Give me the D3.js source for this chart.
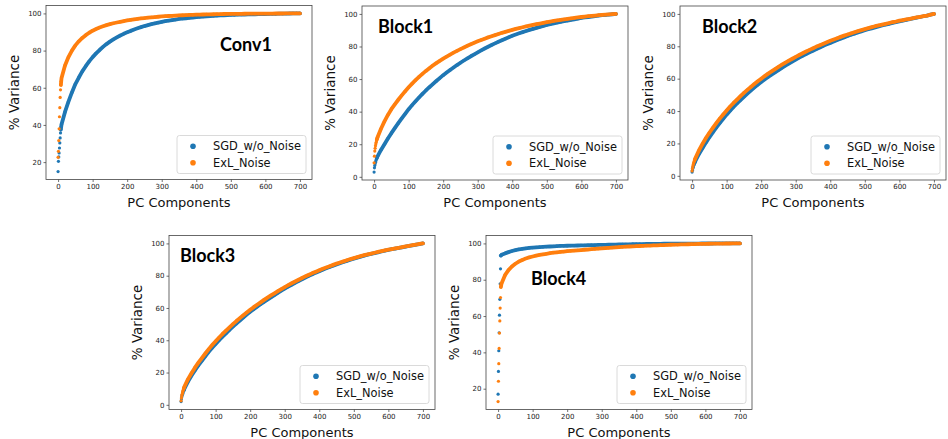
<!DOCTYPE html>
<html>
<head>
<meta charset="utf-8">
<script src="https://cdn.jsdelivr.net/npm/d3@7"></script>
<style>
  html, body { margin: 0; padding: 0; background: #fff; }
  svg { display: block; }
</style>
</head>
<body>
<svg id="chart" width="948" height="439"></svg>
<script>
// ---------------- DATA ----------------
const pcs = [0,1,2,3,4,5,6,7,8,9,10,
  20,30,40,50,60,70,80,90,100,
  110,120,130,140,150,160,170,180,190,200,
  210,220,230,240,250,260,270,280,290,300,
  310,320,330,340,350,360,370,380,390,400,
  410,420,430,440,450,460,470,480,490,500,
  510,520,530,540,550,560,570,580,590,600,
  610,620,630,640,650,660,670,680,690,700];

const seriesNames = ["SGD_w/o_Noise", "ExL_Noise"];
const panelTitles = ["Conv1", "Block1", "Block2", "Block3", "Block4"];
const xTicks = [0,100,200,300,400,500,600,700];
const yTicksConv1 = [20,40,60,80,100];
const yTicksBlock = [0,20,40,60,80,100];
const yTicksBlock4 = [20,40,60,80,100];

const conv1Sgd = [14.9,20.4,22.8,24.9,27.6,30.3,33.0,35.7,37.5,39.0,40.3,
  47.0,52.5,57.5,62.0,65.5,68.8,71.6,74.2,76.5,
  78.5,80.3,82.0,83.5,84.8,86.0,87.1,88.1,89.0,89.8,
  90.6,91.3,92.0,92.6,93.2,93.7,94.2,94.6,95.0,95.4,
  95.8,96.1,96.4,96.7,97.0,97.2,97.4,97.6,97.8,98.0,
  98.15,98.3,98.45,98.6,98.7,98.8,98.9,99.0,99.1,99.2,
  99.25,99.3,99.35,99.4,99.45,99.5,99.55,99.6,99.64,99.68,
  99.72,99.76,99.8,99.84,99.88,99.91,99.94,99.97,99.99,100];
const conv1Exl = [22.6,25.8,31.6,37.9,44.4,49.3,54.8,58.9,61.5,63.5,65.3,
  72.0,76.5,80.0,82.8,85.0,86.8,88.3,89.6,90.7,
  91.6,92.4,93.1,93.7,94.2,94.7,95.1,95.5,95.9,96.2,
  96.5,96.8,97.05,97.3,97.5,97.7,97.9,98.05,98.2,98.35,
  98.5,98.6,98.7,98.8,98.9,99.0,99.08,99.16,99.24,99.3,
  99.36,99.42,99.47,99.52,99.56,99.6,99.64,99.67,99.7,99.73,
  99.76,99.78,99.8,99.82,99.84,99.86,99.88,99.89,99.9,99.91,
  99.92,99.93,99.94,99.95,99.96,99.97,99.98,99.99,99.995,100];

const block1Sgd = [2.9,5.5,6.9,8.0,8.9,9.7,10.4,11.0,11.6,12.1,12.6,
  16.5,20.0,23.5,26.8,29.9,32.9,35.8,38.7,41.5,
  44.0,46.4,48.7,50.9,53.0,55.0,56.9,58.8,60.6,62.4,
  64.0,65.6,67.1,68.6,70.0,71.4,72.7,74.0,75.2,76.4,
  77.6,78.75,79.85,80.9,81.9,82.9,83.85,84.8,85.7,86.55,
  87.35,88.1,88.8,89.5,90.2,90.8,91.4,92.0,92.6,93.2,
  93.7,94.2,94.7,95.1,95.5,95.9,96.3,96.7,97.1,97.5,
  97.8,98.1,98.4,98.7,98.95,99.2,99.4,99.6,99.8,100];
const block1Exl = [8.6,12.7,15.8,17.5,19.0,20.2,21.2,22.1,22.9,23.6,24.3,
  29.5,34.0,38.0,41.5,44.5,47.3,50.0,52.5,55.0,
  57.2,59.3,61.3,63.2,65.0,66.7,68.3,69.8,71.2,72.5,
  73.8,75.0,76.2,77.3,78.4,79.4,80.4,81.4,82.3,83.2,
  84.0,84.8,85.6,86.3,87.0,87.7,88.4,89.0,89.6,90.2,
  90.8,91.3,91.8,92.3,92.8,93.3,93.7,94.1,94.5,94.9,
  95.3,95.7,96.0,96.3,96.6,96.9,97.2,97.5,97.8,98.1,
  98.35,98.6,98.8,99.0,99.2,99.4,99.55,99.7,99.85,100];

const block2Sgd = [2.3,3.5,4.5,5.3,6.0,6.6,7.2,7.8,8.3,8.8,9.3,
  13.5,17.0,20.5,23.8,26.8,29.7,32.5,35.2,37.8,
  40.2,42.5,44.7,46.8,48.8,50.8,52.7,54.5,56.2,57.9,
  59.5,61.0,62.5,63.9,65.3,66.7,68.0,69.3,70.6,71.8,
  73.0,74.1,75.2,76.3,77.3,78.3,79.3,80.3,81.2,82.1,
  83.0,83.9,84.7,85.5,86.3,87.1,87.8,88.5,89.2,89.9,
  90.5,91.1,91.7,92.3,92.9,93.4,93.9,94.4,94.9,95.4,
  95.85,96.3,96.75,97.2,97.65,98.1,98.55,99.0,99.5,100];
const block2Exl = [3.0,4.5,5.7,6.7,7.5,8.2,8.9,9.5,10.1,10.6,11.1,
  15.8,19.7,23.3,26.6,29.6,32.5,35.3,37.9,40.4,
  42.8,45.0,47.1,49.2,51.2,53.1,54.9,56.7,58.4,60.0,
  61.6,63.1,64.5,65.9,67.3,68.6,69.9,71.1,72.3,73.5,
  74.6,75.7,76.8,77.8,78.8,79.8,80.7,81.6,82.5,83.4,
  84.2,85.0,85.8,86.6,87.3,88.0,88.7,89.4,90.0,90.6,
  91.2,91.8,92.4,92.9,93.4,93.9,94.4,94.9,95.3,95.8,
  96.2,96.6,97.0,97.4,97.8,98.2,98.6,99.0,99.5,100];

const block3Sgd = [2.0,3.6,4.8,5.7,6.5,7.2,7.9,8.5,9.1,9.6,10.1,
  14.4,18.0,21.3,24.4,27.3,30.1,32.8,35.3,37.7,
  40.0,42.2,44.3,46.4,48.4,50.3,52.2,54.1,55.9,57.6,
  59.2,60.8,62.3,63.8,65.2,66.6,68.0,69.4,70.7,72.0,
  73.2,74.4,75.6,76.7,77.8,78.9,79.9,80.9,81.9,82.8,
  83.7,84.6,85.4,86.2,87.0,87.8,88.5,89.2,89.9,90.6,
  91.2,91.8,92.4,93.0,93.5,94.0,94.5,95.0,95.5,96.0,
  96.4,96.8,97.2,97.6,98.0,98.4,98.8,99.2,99.6,100];
const block3Exl = [2.5,4.3,5.6,6.6,7.5,8.3,9.0,9.7,10.3,10.9,11.4,
  15.9,19.6,23.0,26.1,29.0,31.8,34.5,37.0,39.4,
  41.7,43.9,46.0,48.0,50.0,51.9,53.7,55.5,57.2,58.9,
  60.5,62.0,63.5,65.0,66.4,67.8,69.1,70.4,71.7,72.9,
  74.1,75.3,76.4,77.5,78.6,79.6,80.6,81.6,82.5,83.4,
  84.3,85.1,85.9,86.7,87.5,88.2,88.9,89.6,90.3,90.9,
  91.5,92.1,92.7,93.2,93.7,94.2,94.7,95.2,95.7,96.1,
  96.5,96.9,97.3,97.7,98.1,98.5,98.9,99.3,99.65,100];

const block4Sgd = [17.0,29.5,40.9,50.8,60.5,69.2,77.8,86.0,93.3,93.5,93.7,
  94.5,95.2,95.8,96.3,96.7,97.0,97.3,97.5,97.7,
  97.85,98.0,98.1,98.2,98.3,98.4,98.5,98.6,98.65,98.7,
  98.75,98.8,98.85,98.9,98.95,99.0,99.05,99.1,99.15,99.2,
  99.24,99.28,99.32,99.36,99.4,99.44,99.48,99.52,99.56,99.6,
  99.63,99.66,99.69,99.72,99.75,99.77,99.79,99.81,99.83,99.85,
  99.86,99.87,99.88,99.89,99.9,99.91,99.92,99.93,99.94,99.95,
  99.955,99.96,99.965,99.97,99.975,99.98,99.985,99.99,99.995,100];
const block4Exl = [12.9,24.1,33.8,42.2,50.6,57.3,64.4,70.2,76.0,77.0,77.9,
  82.5,85.3,87.3,88.8,90.0,90.9,91.7,92.3,92.8,
  93.3,93.7,94.0,94.3,94.6,94.9,95.1,95.3,95.5,95.7,
  95.9,96.05,96.2,96.35,96.5,96.65,96.8,96.95,97.1,97.25,
  97.4,97.55,97.7,97.85,98.0,98.1,98.2,98.3,98.4,98.5,
  98.58,98.66,98.74,98.82,98.9,98.97,99.04,99.11,99.18,99.25,
  99.32,99.38,99.44,99.5,99.55,99.6,99.65,99.7,99.74,99.78,
  99.82,99.85,99.88,99.9,99.92,99.94,99.96,99.98,99.99,100];

// ---------------- LAYOUT / STYLE ----------------
const colors = ["#1f77b4", "#ff7f0e"];
const PW = 266, PH = 174;
const panels = [
  { title: panelTitles[0], sgd: conv1Sgd,  exl: conv1Exl,  yTicks: yTicksConv1,  left: 46,  top: 5.5, tx: 174, ty: 38 },
  { title: panelTitles[1], sgd: block1Sgd, exl: block1Exl, yTicks: yTicksBlock,  left: 362, top: 6,   tx: 16,  ty: 20 },
  { title: panelTitles[2], sgd: block2Sgd, exl: block2Exl, yTicks: yTicksBlock,  left: 680, top: 6,   tx: 22,  ty: 20 },
  { title: panelTitles[3], sgd: block3Sgd, exl: block3Exl, yTicks: yTicksBlock,  left: 169, top: 235.5, tx: 11, ty: 19.5 },
  { title: panelTitles[4], sgd: block4Sgd, exl: block4Exl, yTicks: yTicksBlock4, left: 486, top: 235.5, tx: 45, ty: 42.5 }
];

const svg = d3.select("#chart");
svg.append("rect").attr("width", 948).attr("height", 439).attr("fill", "#fff");

const axisFont = "DejaVu Sans, sans-serif";

function margined(ext) {
  const pad = (ext[1] - ext[0]) * 0.05;
  return [ext[0] - pad, ext[1] + pad];
}

panels.forEach(p => {
  const g = svg.append("g").attr("transform", `translate(${p.left},${p.top})`);
  const x = d3.scaleLinear().domain(margined(d3.extent(pcs))).range([0, PW]);
  const allY = p.sgd.concat(p.exl);
  const y = d3.scaleLinear().domain(margined(d3.extent(allY))).range([PH, 0]);

  // series (blue first, orange on top)
  [p.sgd, p.exl].forEach((vals, si) => {
    const pts = pcs.map((c, i) => ({ c, v: vals[i] }));
    const dense = pts.filter(d => d.c >= 8);
    g.append("path")
      .datum(dense)
      .attr("fill", "none")
      .attr("stroke", colors[si])
      .attr("stroke-width", 3.8)
      .attr("stroke-linecap", "round")
      .attr("stroke-linejoin", "round")
      .attr("d", d3.line().x(d => x(d.c)).y(d => y(d.v)));
    g.selectAll(null).data(pts).enter().append("circle")
      .attr("cx", d => x(d.c))
      .attr("cy", d => y(d.v))
      .attr("r", 1.6)
      .attr("fill", colors[si]);
  });

  // axes
  const xAxis = d3.axisBottom(x).tickValues(xTicks).tickSize(2.5).tickPadding(2);
  const yAxis = d3.axisLeft(y).tickValues(p.yTicks).tickSize(2.5).tickPadding(2);
  const gx = g.append("g").attr("transform", `translate(0,${PH})`).call(xAxis);
  const gy = g.append("g").call(yAxis);
  [gx, gy].forEach(a => {
    a.select(".domain").remove();
    a.selectAll(".tick line").attr("stroke", "#333").attr("stroke-width", 0.7);
    a.selectAll(".tick text").attr("font-family", axisFont).attr("font-size", 7).attr("fill", "#222");
  });

  // frame
  g.append("rect").attr("width", PW).attr("height", PH)
    .attr("fill", "none").attr("stroke", "#444").attr("stroke-width", 0.8);

  // axis labels
  g.append("text")
    .attr("x", PW / 2).attr("y", PH + 22.5)
    .attr("text-anchor", "middle").attr("dominant-baseline", "central")
    .attr("font-family", axisFont).attr("font-size", 13).attr("fill", "#111")
    .text("PC Components");
  g.append("text")
    .attr("transform", `translate(-32,${PH / 2}) rotate(-90)`)
    .attr("text-anchor", "middle").attr("dominant-baseline", "central")
    .attr("font-family", axisFont).attr("font-size", 13.5).attr("fill", "#111")
    .text("% Variance");

  // title
  g.append("text")
    .attr("x", p.tx).attr("y", p.ty)
    .attr("dominant-baseline", "central")
    .attr("font-family", "Lato, sans-serif").attr("font-weight", "bold")
    .attr("font-size", 18).attr("fill", "#000")
    .text(p.title);

  // legend
  const LW = 129, LH = 38;
  const lg = g.append("g").attr("transform", `translate(${PW - 6 - LW},${PH - 6 - LH})`);
  lg.append("rect").attr("width", LW).attr("height", LH).attr("rx", 2.5)
    .attr("fill", "#fff").attr("fill-opacity", 0.85)
    .attr("stroke", "#d0d0d0").attr("stroke-width", 0.8);
  seriesNames.forEach((name, i) => {
    const ry = 10.7 + i * 16.6;
    lg.append("circle").attr("cx", 16).attr("cy", ry).attr("r", 2.8).attr("fill", colors[i]);
    lg.append("text").attr("x", 36).attr("y", ry)
      .attr("dominant-baseline", "central")
      .attr("font-family", axisFont).attr("font-size", 11.4).attr("fill", "#111")
      .text(name);
  });
});
</script>
</body>
</html>
